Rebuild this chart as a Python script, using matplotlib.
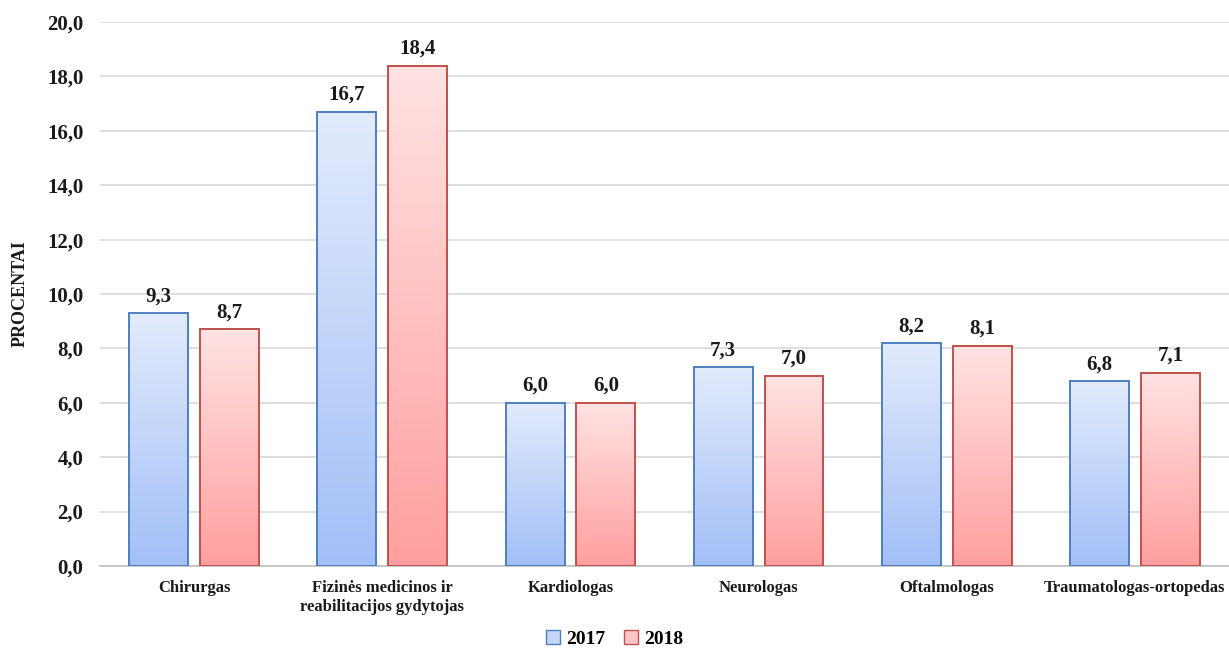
import matplotlib
matplotlib.use("Agg")
import matplotlib.pyplot as plt
import numpy as np
from matplotlib.colors import LinearSegmentedColormap
from matplotlib.patches import Patch

# ── Data ──────────────────────────────────────────────────────────────────────
categories = ["Chirurgas", "Fizinės medicinos ir\nreabilitacijos gydytojas",
              "Kardiologas", "Neurologas", "Oftalmologas",
              "Traumatologas-ortopedas"]
years = ["2017", "2018"]
vals_2017 = [9.3, 16.7, 6.0, 7.3, 8.2, 6.8]
vals_2018 = [8.7, 18.4, 6.0, 7.0, 8.1, 7.1]
yticks = np.arange(0, 20.01, 2.0)

# ── Style ─────────────────────────────────────────────────────────────────────
FONT = "Liberation Serif"
BLUE_TOP, BLUE_BOT, BLUE_EDGE = "#e2ebfc", "#a2bff7", "#4f7fc0"
RED_TOP, RED_BOT, RED_EDGE = "#ffe3e3", "#ff9f9f", "#c0504d"
GRID = "#d9d9d9"
TXT = "#1a1a1a"

plt.rcParams["font.family"] = FONT
plt.rcParams["font.weight"] = "bold"

fig = plt.figure(figsize=(12.29, 6.49), dpi=100)
ax = fig.add_axes([0.0814, 0.128, 0.9186, 0.838])

x = np.arange(len(categories))
width = 0.313
offset = 0.188

ax.set_xlim(-0.5, len(categories) - 0.5)
ax.set_ylim(0, 20)

grad = np.linspace(1, 0, 256).reshape(-1, 1)


def gradient_bars(xs, vals, top, bot, edge):
    cmap = LinearSegmentedColormap.from_list("g", [bot, top])
    for xc, v in zip(xs, vals):
        ax.imshow(grad, cmap=cmap, aspect="auto", zorder=2,
                  extent=[xc - width / 2, xc + width / 2, 0, v],
                  interpolation="bicubic")
        ax.bar(xc, v, width, facecolor="none", edgecolor=edge,
               linewidth=1.4, zorder=3)
        ax.text(xc, v + 0.25, f"{v:.1f}".replace(".", ","), ha="center",
                va="bottom", fontsize=15, fontweight="bold", color=TXT)


gradient_bars(x - offset, vals_2017, BLUE_TOP, BLUE_BOT, BLUE_EDGE)
gradient_bars(x + offset, vals_2018, RED_TOP, RED_BOT, RED_EDGE)

ax.set_xlim(-0.5, len(categories) - 0.5)
ax.set_ylim(0, 20)

ax.set_yticks(yticks)
ax.set_yticklabels([f"{t:.1f}".replace(".", ",") for t in yticks],
                   fontsize=15, fontweight="bold", color=TXT)
ax.set_xticks(x)
ax.set_xticklabels(categories, fontsize=12, fontweight="bold", color=TXT,
                   linespacing=1.25)
ax.tick_params(axis="both", length=0)
ax.tick_params(axis="y", pad=12)
ax.tick_params(axis="x", pad=10)

ax.yaxis.grid(True, color=GRID, linewidth=1.2, zorder=0)
ax.set_axisbelow(True)
for side in ["left", "right", "top"]:
    ax.spines[side].set_visible(False)
ax.spines["bottom"].set_color("#bfbfbf")
ax.spines["bottom"].set_linewidth(1.2)

fig.text(0.016, 0.547, "PROCENTAI", rotation=90, ha="center", va="center",
         fontsize=13, fontweight="bold", color=TXT)

handles = [Patch(facecolor="#c5d7f9", edgecolor=BLUE_EDGE, label=years[0]),
           Patch(facecolor="#ffc4c4", edgecolor=RED_EDGE, label=years[1])]
fig.legend(handles=handles, loc="center", bbox_to_anchor=(0.5, 0.015),
           ncol=2, frameon=False, fontsize=14, handlelength=0.7,
           handleheight=0.7, handletextpad=0.3, columnspacing=1.0)

fig.savefig("out.png", dpi=100, facecolor="white")
